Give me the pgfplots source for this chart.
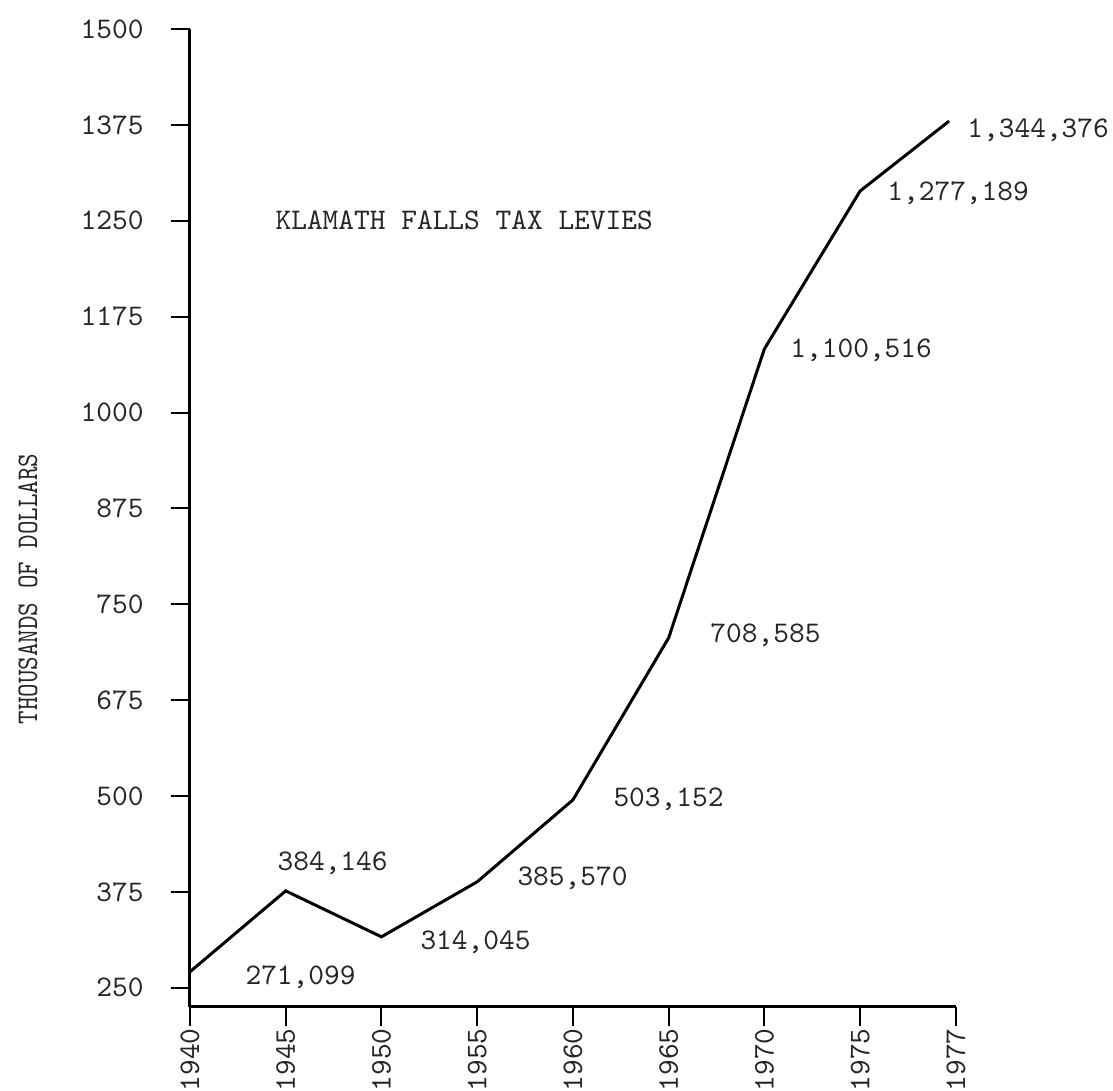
\documentclass[border=0pt]{standalone}
\usepackage{pgfplots}
\pgfplotsset{compat=1.18}
\usepackage{graphicx}
\begin{document}
\begin{tikzpicture}
\begin{axis}[
  at={(0pt,0pt)}, anchor=south west,
  scale only axis, width=255.8pt, height=326.6pt,
  xmin=0, xmax=8, ymin=225.2, ymax=1500,
  axis x line*=bottom, axis y line*=left,
  axis line style={line width=1pt, black},
  xtick={0,1,2,3,4,5,6,7,8},
  xticklabels={\texttt{1940},\texttt{1945},\texttt{1950},\texttt{1955},\texttt{1960},\texttt{1965},\texttt{1970},\texttt{1975},\texttt{1977}},
  ytick={250,375,500,625,750,875,1000,1125,1250,1375,1500},
  yticklabels={\texttt{250},\texttt{375},\texttt{500},\texttt{675},\texttt{750},\texttt{875},\texttt{1000},\texttt{1175},\texttt{1250},\texttt{1375},\texttt{1500}},
  tick align=outside, major tick length=6.5pt,
  every tick/.style={black, line width=0.7pt},
  xticklabel style={rotate=90, anchor=east, inner sep=0.5pt, text=black!85},
  yticklabel style={text=black!85, xshift=-5.5pt},
  clip=false,
]
\addplot[black, line width=1pt, mark=none] coordinates {
  (0,270.9) (1,376.4) (2,316.5) (3,388.2) (4,495.0) (5,706.2) (6,1082.9) (7,1288.8) (7.93,1380.0)
};
\begin{scope}[every node/.style={anchor=west, inner sep=0pt, font=\ttfamily, text=black!85}]
\node at (axis cs:0.888,1251) {KLAMATH FALLS TAX LEVIES};
\node at (axis cs:0.574,264.3) {271,099};
\node at (axis cs:0.909,412.9) {384,146};
\node at (axis cs:2.402,310.0) {314,045};
\node at (axis cs:3.415,393.4) {385,570};
\node at (axis cs:4.418,496.3) {503,152};
\node at (axis cs:5.431,710.1) {708,585};
\node at (axis cs:6.266,1081.6) {1,100,516};
\node at (axis cs:7.279,1286.2) {1,277,189};
\node at (axis cs:8.115,1368.3) {1,344,376};
\end{scope}
\node[rotate=90, inner sep=0pt, text=black!85] at (axis cs:-1.692,770) {\scalebox{0.86}[1]{\ttfamily THOUSANDS OF DOLLARS}};
\end{axis}
\pgfresetboundingbox
\path[use as bounding box] (-63.46pt,-28.06pt) rectangle (308.3pt,336.3pt);
\end{tikzpicture}
\end{document}
